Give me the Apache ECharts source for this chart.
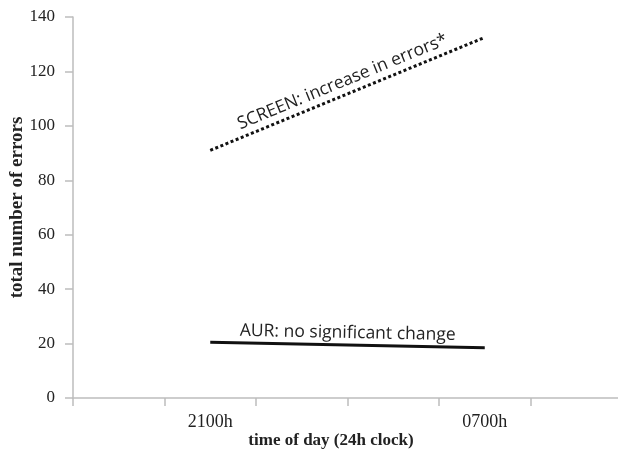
<!DOCTYPE html>
<html><head><meta charset="utf-8">
<script src="https://cdn.jsdelivr.net/npm/echarts@6/dist/echarts.min.js"></script>
<style>html,body{margin:0;padding:0;background:#fff}#c{width:618px;height:449px}</style>
</head><body><div id="c"></div>
<script>
var categories = ['', '2100h', ' ', '  ', '0700h', '   '];
var yTicks = [0, 20, 40, 60, 80, 100, 120, 140];
var screenTimes = ['2100h', '0700h'];
var screenValues = [91, 132.5];
var aurTimes = ['2100h', '0700h'];
var aurValues = [20.5, 18.5];
var screenLabel = 'SCREEN: increase in errors*';
var aurLabel = 'AUR: no significant change';

var chart = echarts.init(document.getElementById('c'), null, {renderer: 'canvas'});
var serif = '"Liberation Serif", "DejaVu Serif", serif';
var sans = '"Open Sans", "Noto Sans", sans-serif';
function pairs(xs, ys) { return xs.map(function (x, i) { return [x, ys[i]]; }); }
function labelLine(xs, ys, text, dist) {
  return {
    silent: true, symbol: ['none', 'none'],
    lineStyle: {color: 'rgba(0,0,0,0)', width: 0},
    label: {show: true, position: 'insideMiddleTop', formatter: text, distance: dist,
      fontFamily: sans, fontSize: 17.5, color: '#222'},
    emphasis: {disabled: true},
    data: [[{coord: [xs[0], ys[0]]}, {coord: [xs[1], ys[1]]}]]
  };
}
chart.setOption({
  animation: false,
  grid: {left: 73, right: -4, top: 17, bottom: 51, containLabel: false, outerBoundsMode: 'none'},
  xAxis: {
    type: 'category', data: categories, boundaryGap: true,
    name: 'time of day (24h clock)', nameLocation: 'middle', nameGap: 34, nameMoveOverlap: false,
    nameTextStyle: {fontFamily: serif, fontWeight: 'bold', fontSize: 17, color: '#222', padding: [0, 33, 0, 0]},
    axisLine: {lineStyle: {color: '#bdbdbd', width: 1.5}},
    axisTick: {show: true, interval: 0, length: 8, lineStyle: {color: '#bdbdbd', width: 1.5}},
    axisLabel: {interval: 0, fontFamily: serif, fontSize: 18, color: '#222', margin: 15}
  },
  yAxis: {
    type: 'value', min: 0, max: 140, interval: 20,
    name: 'total number of errors', nameLocation: 'middle', nameGap: 46, nameMoveOverlap: false,
    nameTextStyle: {fontFamily: serif, fontWeight: 'bold', fontSize: 19, color: '#222'},
    axisLine: {show: true, lineStyle: {color: '#bdbdbd', width: 1.5}},
    axisTick: {show: true, length: 8, lineStyle: {color: '#bdbdbd', width: 1.5}},
    splitLine: {show: false},
    axisLabel: {fontFamily: serif, fontSize: 17, color: '#222', margin: 18,
      formatter: function (v) { return yTicks.indexOf(v) >= 0 ? String(v) : ''; }}
  },
  series: [
    {
      type: 'line', data: pairs(screenTimes, screenValues), symbol: 'none',
      lineStyle: {color: '#111', width: 3, type: [3, 2.5]},
      markLine: labelLine(screenTimes, screenValues, screenLabel, 4)
    },
    {
      type: 'line', data: pairs(aurTimes, aurValues), symbol: 'none',
      lineStyle: {color: '#111', width: 3, type: 'solid'},
      markLine: labelLine(aurTimes, aurValues, aurLabel, 3)
    }
  ]
});
</script></body></html>
